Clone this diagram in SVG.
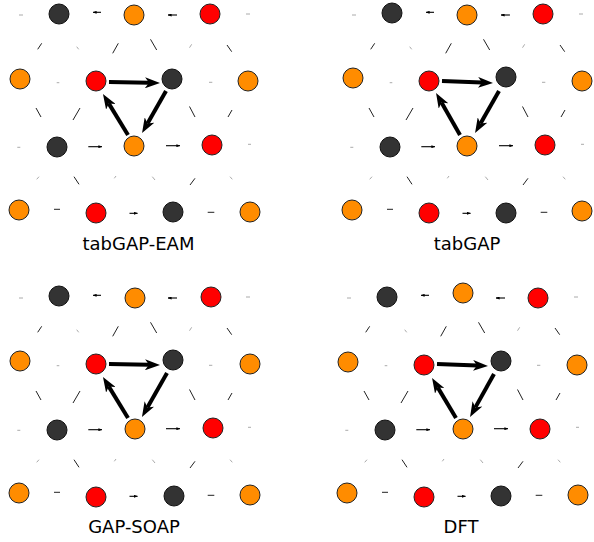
<svg xmlns="http://www.w3.org/2000/svg" xmlns:xlink="http://www.w3.org/1999/xlink" width="594" height="542" viewBox="0 0 594 542">
<style>
.k{fill:#333333;stroke:#111;stroke-width:1}
.o{fill:#ff8c00;stroke:#222;stroke-width:1}
.r{fill:#ff0000;stroke:#222;stroke-width:1}
.big{stroke:#000;stroke-width:4;fill:none;marker-end:url(#hb)}
.sm{stroke:#000;stroke-width:1.1;fill:none;marker-end:url(#hs)}
.tk{stroke:#222;stroke-width:1;fill:none}
.gr{stroke:#aaa;stroke-width:1;fill:none}
.lbl{font-family:"DejaVu Sans",sans-serif;font-size:18px;fill:#000;text-anchor:middle}
</style>
<defs>
<marker id="hb" viewBox="0 0 15 11" refX="4" refY="5.5" markerWidth="15" markerHeight="11" markerUnits="userSpaceOnUse" orient="auto"><path d="M0,0 L15,5.5 L0,11 L4,5.5 z" fill="#000"/></marker>
<marker id="hs" viewBox="0 0 4 3" refX="3.6" refY="1.5" markerWidth="4" markerHeight="3" markerUnits="userSpaceOnUse" orient="auto"><path d="M0,0 L4,1.5 L0,3 z" fill="#000"/></marker>
<g id="marks">
<line class="gr" x1="19" y1="15" x2="23" y2="15"/>
<line class="sm" x1="101" y1="12.3" x2="93" y2="12.3"/>
<line class="sm" x1="177" y1="15" x2="168" y2="15"/>
<line class="gr" x1="246" y1="14" x2="250" y2="14"/>
<line class="tk" x1="41.7" y1="43.3" x2="37.7" y2="49.3"/>
<line class="gr" x1="76.7" y1="46.7" x2="78.7" y2="49.3"/>
<line class="tk" x1="118.3" y1="43.3" x2="112.7" y2="53.3"/>
<line class="tk" x1="156.7" y1="50" x2="150.5" y2="39.3"/>
<line class="gr" x1="191.7" y1="44.3" x2="189.5" y2="47.7"/>
<line class="tk" x1="227" y1="45" x2="231.7" y2="51.7"/>
<line class="gr" x1="56.7" y1="82.7" x2="59.3" y2="82.7"/>
<line class="gr" x1="209" y1="82.3" x2="212.3" y2="82.3"/>
<line class="tk" x1="36" y1="108" x2="41" y2="117"/>
<line class="tk" x1="80" y1="108" x2="73" y2="120"/>
<line class="tk" x1="195" y1="117" x2="189.5" y2="106.5"/>
<line class="tk" x1="232" y1="110" x2="228" y2="117"/>
<line class="gr" x1="17.3" y1="147.3" x2="20.3" y2="147.3"/>
<line class="sm" x1="88.3" y1="146.7" x2="102" y2="146.7"/>
<line class="sm" x1="166" y1="145.7" x2="180" y2="145.7"/>
<line class="gr" x1="248" y1="144.3" x2="251" y2="144.3"/>
<line class="gr" x1="39" y1="176.7" x2="36.7" y2="179.3"/>
<line class="tk" x1="74" y1="176.7" x2="79" y2="184.3"/>
<line class="gr" x1="116" y1="176" x2="114.3" y2="178.3"/>
<line class="gr" x1="152.3" y1="176.7" x2="155" y2="180"/>
<line class="tk" x1="195" y1="178.3" x2="190" y2="185"/>
<line class="gr" x1="230" y1="176.7" x2="232.3" y2="179.3"/>
<line class="tk" x1="54" y1="209.3" x2="60" y2="209.3"/>
<line class="sm" x1="129.5" y1="213.3" x2="137.5" y2="213.3"/>
<line class="tk" x1="207.7" y1="212.3" x2="214.3" y2="212.3"/>
</g>
</defs>
<rect width="594" height="542" fill="#fff"/>
<g id="connectors">
<use xlink:href="#marks" href="#marks"/>
<use xlink:href="#marks" href="#marks" transform="translate(333,0)"/>
<use xlink:href="#marks" href="#marks" transform="translate(0,283)"/>
<use xlink:href="#marks" href="#marks" transform="translate(328,283)"/>
<line class="big" x1="109" y1="82" x2="149" y2="82.8"/>
<line class="big" x1="166" y1="91" x2="147.5" y2="123.5"/>
<line class="big" x1="128" y1="135" x2="108.7" y2="103.4"/>
<line class="big" x1="442" y1="81" x2="482" y2="82.6"/>
<line class="big" x1="499" y1="91" x2="480.5" y2="123.5"/>
<line class="big" x1="460" y1="135" x2="441.5" y2="102.5"/>
<line class="big" x1="109" y1="364" x2="149" y2="364.8"/>
<line class="big" x1="167" y1="373" x2="147.4" y2="407.4"/>
<line class="big" x1="128" y1="418" x2="108.7" y2="386.4"/>
<line class="big" x1="437" y1="364" x2="477" y2="365.6"/>
<line class="big" x1="494" y1="374" x2="475.4" y2="407.4"/>
<line class="big" x1="456" y1="418" x2="437.7" y2="387.4"/>
</g>
<g id="panel-tabGAP-EAM">
<circle id="p1-n1" class="k" cx="59" cy="14" r="10"/>
<circle id="p1-n2" class="o" cx="134" cy="15" r="10"/>
<circle id="p1-n3" class="r" cx="210" cy="14" r="10"/>
<circle id="p1-n4" class="o" cx="20" cy="79" r="10"/>
<circle id="p1-n5" class="r" cx="96" cy="81" r="10"/>
<circle id="p1-n6" class="k" cx="172" cy="79" r="10"/>
<circle id="p1-n7" class="o" cx="248" cy="81" r="10"/>
<circle id="p1-n8" class="k" cx="57" cy="147" r="10"/>
<circle id="p1-n9" class="o" cx="134" cy="146" r="10"/>
<circle id="p1-n10" class="r" cx="212" cy="145" r="10"/>
<circle id="p1-n11" class="o" cx="19" cy="210" r="10"/>
<circle id="p1-n12" class="r" cx="96" cy="213" r="10"/>
<circle id="p1-n13" class="k" cx="173" cy="212" r="10"/>
<circle id="p1-n14" class="o" cx="250" cy="212" r="10"/>
<text class="lbl" x="138.5" y="250">tabGAP-EAM</text>
</g>
<g id="panel-tabGAP">
<circle id="p2-n1" class="k" cx="392" cy="13" r="10"/>
<circle id="p2-n2" class="o" cx="467" cy="15" r="10"/>
<circle id="p2-n3" class="r" cx="543" cy="14" r="10"/>
<circle id="p2-n4" class="o" cx="353" cy="78" r="10"/>
<circle id="p2-n5" class="r" cx="429" cy="81" r="10"/>
<circle id="p2-n6" class="k" cx="506" cy="77" r="10"/>
<circle id="p2-n7" class="o" cx="582" cy="81" r="10"/>
<circle id="p2-n8" class="k" cx="390" cy="147" r="10"/>
<circle id="p2-n9" class="o" cx="467" cy="146" r="10"/>
<circle id="p2-n10" class="r" cx="545" cy="145" r="10"/>
<circle id="p2-n11" class="o" cx="352" cy="210" r="10"/>
<circle id="p2-n12" class="r" cx="429" cy="213" r="10"/>
<circle id="p2-n13" class="k" cx="506" cy="213" r="10"/>
<circle id="p2-n14" class="o" cx="582" cy="211" r="10"/>
<text class="lbl" x="467" y="250">tabGAP</text>
</g>
<g id="panel-GAP-SOAP">
<circle id="p3-n1" class="k" cx="59" cy="296" r="10"/>
<circle id="p3-n2" class="o" cx="135" cy="298" r="10"/>
<circle id="p3-n3" class="r" cx="211" cy="297" r="10"/>
<circle id="p3-n4" class="o" cx="20" cy="361" r="10"/>
<circle id="p3-n5" class="r" cx="96" cy="364" r="10"/>
<circle id="p3-n6" class="k" cx="173" cy="360" r="10"/>
<circle id="p3-n7" class="o" cx="250" cy="364" r="10"/>
<circle id="p3-n8" class="k" cx="57" cy="430" r="10"/>
<circle id="p3-n9" class="o" cx="135" cy="429" r="10"/>
<circle id="p3-n10" class="r" cx="213" cy="428" r="10"/>
<circle id="p3-n11" class="o" cx="19" cy="493" r="10"/>
<circle id="p3-n12" class="r" cx="96" cy="497" r="10"/>
<circle id="p3-n13" class="k" cx="174" cy="496" r="10"/>
<circle id="p3-n14" class="o" cx="250" cy="495" r="10"/>
<text class="lbl" x="134" y="533">GAP-SOAP</text>
</g>
<g id="panel-DFT">
<circle id="p4-n1" class="k" cx="387" cy="297" r="10"/>
<circle id="p4-n2" class="o" cx="463" cy="293" r="10"/>
<circle id="p4-n3" class="r" cx="538" cy="298" r="10"/>
<circle id="p4-n4" class="o" cx="348" cy="362" r="10"/>
<circle id="p4-n5" class="r" cx="424" cy="365" r="10"/>
<circle id="p4-n6" class="k" cx="501" cy="361" r="10"/>
<circle id="p4-n7" class="o" cx="577" cy="365" r="10"/>
<circle id="p4-n8" class="k" cx="385" cy="430" r="10"/>
<circle id="p4-n9" class="o" cx="463" cy="429" r="10"/>
<circle id="p4-n10" class="r" cx="540" cy="429" r="10"/>
<circle id="p4-n11" class="o" cx="347" cy="493" r="10"/>
<circle id="p4-n12" class="r" cx="424" cy="497" r="10"/>
<circle id="p4-n13" class="k" cx="501" cy="496" r="10"/>
<circle id="p4-n14" class="o" cx="578" cy="495" r="10"/>
<text class="lbl" x="461" y="533">DFT</text>
</g>
</svg>
